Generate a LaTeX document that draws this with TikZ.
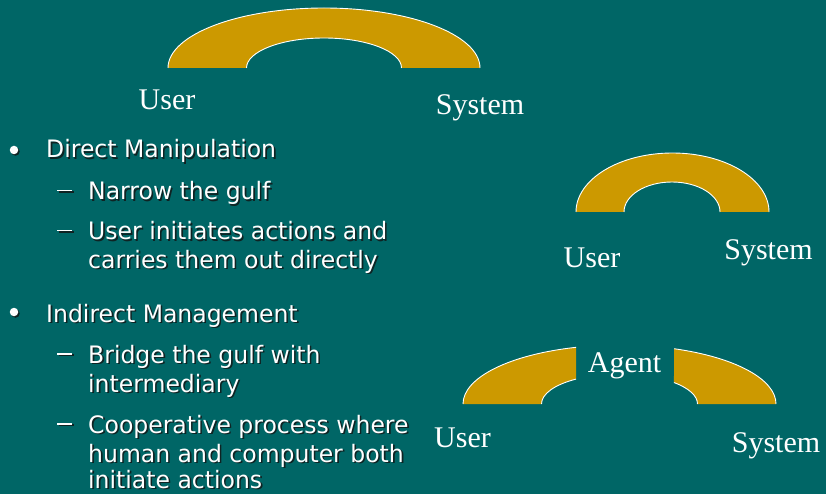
\documentclass[tikz,border=0pt]{standalone}
\usepackage{fontspec}
\setmainfont{Liberation Serif}
\newfontfamily\bodyfont[FakeStretch=0.98]{DejaVu Sans}
\definecolor{bgteal}{RGB}{0,102,102}
\definecolor{archgold}{RGB}{204,153,0}
\definecolor{shadowc}{RGB}{15,35,35}
\tikzset{
  x=1pt,y=1pt,
  archfill/.style={fill=archgold},
  archline/.style={draw=white,line width=0.9pt},
  lbl/.style={font=\fontsize{30}{30}\selectfont,text=white,anchor=base,inner sep=0pt},
  bodytxt/.style={font=\bodyfont\fontsize{24}{28}\selectfont,text=white,anchor=base west,inner sep=0pt},
  bodyshadow/.style={font=\bodyfont\fontsize{24}{28}\selectfont,text=shadowc,anchor=base west,inner sep=0pt},
  dotmark/.style={circle,inner sep=0pt,minimum size=8.5pt},
}
\newcommand{\shline}[4]{%
  \node[bodyshadow] (#1s) at (#2+1.6,-#3-1.6) {#4};
  \node[bodytxt] (#1) at (#2,-#3) {#4};}
\newcommand{\dashmark}[3]{%
  \node[bodyshadow] (#1s) at (#2+1.6,-#3-1.6) {\rule[8.5pt]{15pt}{1.8pt}};
  \node[bodytxt] (#1) at (#2,-#3) {\rule[8.5pt]{15pt}{1.8pt}};}
\newcommand{\bulletmark}[3]{%
  \node[dotmark,fill=shadowc] (#1s) at (#2+1.5,-#3-1.5) {};
  \node[dotmark,fill=white] (#1) at (#2,-#3) {};}
\begin{document}
\begin{tikzpicture}
\fill[bgteal] (0,0) rectangle (826,-494);
\useasboundingbox (0,0) rectangle (826,-494);
% arch 1
\fill[archfill] (168,-68) arc[start angle=180,end angle=0,x radius=156,y radius=60]
  -- (401.5,-68) arc[start angle=0,end angle=180,x radius=77.5,y radius=30] -- cycle;
\draw[archline] (168,-68) arc[start angle=180,end angle=0,x radius=156,y radius=60];
\draw[archline] (401.5,-68) arc[start angle=0,end angle=180,x radius=77.5,y radius=30];
% arch 2
\fill[archfill] (576,-212) arc[start angle=180,end angle=0,x radius=96.5,y radius=59]
  -- (720,-212) arc[start angle=0,end angle=180,x radius=48,y radius=30] -- cycle;
\draw[archline] (576,-212) arc[start angle=180,end angle=0,x radius=96.5,y radius=59];
\draw[archline] (720,-212) arc[start angle=0,end angle=180,x radius=48,y radius=30];
% arch 3 (split)
\fill[archfill] (463,-404) arc[start angle=180,end angle=106.1,x radius=156.5,y radius=59]
  -- ([shift={(619.5,-404)}]123.9:78 and 30)
  arc[start angle=123.9,end angle=180,x radius=78,y radius=30] -- cycle;
\draw[archline] (463,-404) arc[start angle=180,end angle=106.1,x radius=156.5,y radius=59];
\draw[archline] ([shift={(619.5,-404)}]123.9:78 and 30) arc[start angle=123.9,end angle=180,x radius=78,y radius=30];
\fill[archfill] (776,-404) arc[start angle=0,end angle=69.6,x radius=156.5,y radius=59]
  -- ([shift={(619.5,-404)}]45.7:78 and 30)
  arc[start angle=45.7,end angle=0,x radius=78,y radius=30] -- cycle;
\draw[archline] (776,-404) arc[start angle=0,end angle=69.6,x radius=156.5,y radius=59];
\draw[archline] ([shift={(619.5,-404)}]45.7:78 and 30) arc[start angle=45.7,end angle=0,x radius=78,y radius=30];
% labels
\node[lbl] (user1) at (167,-110) {User};
\node[lbl] (sys1) at (480,-115) {System};
\node[lbl] (user2) at (592,-267) {User};
\node[lbl] (sys2) at (768.5,-259) {System};
\node[lbl] (agent) at (624.5,-372) {Agent};
\node[lbl] (user3) at (462.5,-447) {User};
\node[lbl] (sys3) at (776,-452) {System};
% bullets
\bulletmark{b1}{14}{150}
\shline{t1}{46}{158}{Direct Manipulation}
\dashmark{d1}{57}{200}
\shline{t2}{88}{200}{Narrow the gulf}
\dashmark{d2}{57}{240}
\shline{t3}{88}{240}{User initiates actions and}
\shline{t4}{88}{268}{carries them out directly}
\bulletmark{b2}{14}{312}
\shline{t5}{46}{322}{Indirect Management}
\dashmark{d3}{57}{363}
\shline{t6}{88}{363}{Bridge the gulf with}
\shline{t7}{88}{392}{intermediary}
\dashmark{d4}{57}{433}
\shline{t8}{88}{433}{Cooperative process where}
\shline{t9}{88}{462}{human and computer both}
\shline{t10}{88}{488}{initiate actions}
\end{tikzpicture}
\end{document}
